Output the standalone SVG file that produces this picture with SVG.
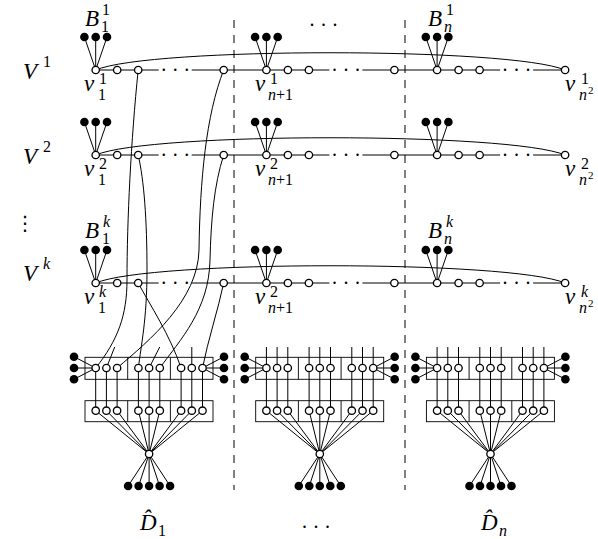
<svg xmlns="http://www.w3.org/2000/svg" width="598" height="539" viewBox="0 0 598 539">
<style>
.l{fill:none;stroke:#000;stroke-width:1}
.bx{fill:none;stroke:#000;stroke-width:0.9}
.d{fill:none;stroke:#000;stroke-width:1;stroke-dasharray:8 7}
.o{fill:#fff;stroke:#000;stroke-width:1.3}
.b{fill:#000}
.m{font-style:italic;font-size:23px}
.mi{font-style:italic;font-size:16px}
.sd{font-size:16px}
.ss{font-size:11px}
.dt{font-size:20px;letter-spacing:6.5px}
</style>
<rect width="598" height="539" fill="#fff"/>
<defs>
<g id="gadLines">
<rect class="bx" x="-10.7" y="357.3" width="128" height="22"/>
<path class="bx" d="M32,357.3V379.3M74.7,357.3V379.3"/>
<rect class="bx" x="-10.7" y="400.7" width="128" height="21"/>
<path class="bx" d="M32,400.7V421.7M74.7,400.7V421.7"/>
<path class="l" d="M0,368V410.7M10.7,368V410.7M21.4,368V410.7M42.7,368V410.7M53.4,368V410.7M64.1,368V410.7M85.4,368V410.7M96.1,368V410.7M106.8,368V410.7"/>
<path class="l" d="M0,410.7L53.4,454M10.7,410.7L53.4,454M21.4,410.7L53.4,454M42.7,410.7L53.4,454M53.4,410.7V454M64.1,410.7L53.4,454M85.4,410.7L53.4,454M96.1,410.7L53.4,454M106.8,410.7L53.4,454"/>
<path class="l" d="M53.4,454L32.4,486M53.4,454L42.9,486M53.4,454V486M53.4,454L63.9,486M53.4,454L74.4,486"/>
<path class="l" d="M-21.7,356.7L0,368M-21.7,368H0M-21.7,379.3L0,368M128.3,356.7L106.8,368M128.3,368H106.8M128.3,379.3L106.8,368"/>
</g>
<g id="gadNodes">
<circle class="o" cx="0" cy="368" r="3.7"/><circle class="o" cx="10.7" cy="368" r="3.7"/><circle class="o" cx="21.4" cy="368" r="3.7"/>
<circle class="o" cx="42.7" cy="368" r="3.7"/><circle class="o" cx="53.4" cy="368" r="3.7"/><circle class="o" cx="64.1" cy="368" r="3.7"/>
<circle class="o" cx="85.4" cy="368" r="3.7"/><circle class="o" cx="96.1" cy="368" r="3.7"/><circle class="o" cx="106.8" cy="368" r="3.7"/>
<circle class="o" cx="0" cy="410.7" r="3.7"/><circle class="o" cx="10.7" cy="410.7" r="3.7"/><circle class="o" cx="21.4" cy="410.7" r="3.7"/>
<circle class="o" cx="42.7" cy="410.7" r="3.7"/><circle class="o" cx="53.4" cy="410.7" r="3.7"/><circle class="o" cx="64.1" cy="410.7" r="3.7"/>
<circle class="o" cx="85.4" cy="410.7" r="3.7"/><circle class="o" cx="96.1" cy="410.7" r="3.7"/><circle class="o" cx="106.8" cy="410.7" r="3.7"/>
<circle class="o" cx="53.4" cy="454" r="3.7"/>
<circle class="b" cx="32.4" cy="486" r="4.3"/><circle class="b" cx="42.9" cy="486" r="4.3"/><circle class="b" cx="53.4" cy="486" r="4.3"/><circle class="b" cx="63.9" cy="486" r="4.3"/><circle class="b" cx="74.4" cy="486" r="4.3"/>
<circle class="b" cx="-21.7" cy="356.7" r="4.3"/><circle class="b" cx="-21.7" cy="368" r="4.3"/><circle class="b" cx="-21.7" cy="379.3" r="4.3"/>
<circle class="b" cx="128.3" cy="356.7" r="4.3"/><circle class="b" cx="128.3" cy="368" r="4.3"/><circle class="b" cx="128.3" cy="379.3" r="4.3"/>
</g>
<g id="rowNodes">
<circle class="b" cx="84.4" cy="-33" r="4.3"/><circle class="b" cx="95.7" cy="-33" r="4.3"/><circle class="b" cx="107" cy="-33" r="4.3"/>
<circle class="b" cx="255.1" cy="-33" r="4.3"/><circle class="b" cx="266.4" cy="-33" r="4.3"/><circle class="b" cx="277.7" cy="-33" r="4.3"/>
<circle class="b" cx="425.8" cy="-33" r="4.3"/><circle class="b" cx="437.1" cy="-33" r="4.3"/><circle class="b" cx="448.4" cy="-33" r="4.3"/>
<circle class="o" cx="95.7" cy="0" r="3.7"/><circle class="o" cx="117.2" cy="0" r="3.7"/><circle class="o" cx="138.2" cy="0" r="3.7"/><circle class="o" cx="223.7" cy="0" r="3.7"/>
<circle class="o" cx="266.4" cy="0" r="3.7"/><circle class="o" cx="287.9" cy="0" r="3.7"/><circle class="o" cx="308.9" cy="0" r="3.7"/><circle class="o" cx="394.4" cy="0" r="3.7"/>
<circle class="o" cx="437.1" cy="0" r="3.7"/><circle class="o" cx="458.6" cy="0" r="3.7"/><circle class="o" cx="479.6" cy="0" r="3.7"/><circle class="o" cx="565.1" cy="0" r="3.7"/>
<g font-family="Liberation Serif, DejaVu Serif, serif">
<text class="dt" x="161.2" y="1">...</text><text class="dt" x="331.9" y="1">...</text><text class="dt" x="502.6" y="1">...</text>
</g>
</g>
<path id="rowLines" class="l" d="M95.7,0H158.7M191.7,0H329.4M362.4,0H500.1M533.1,0H565.1M95.7,0C150,-23 510,-23 565.1,0M84.4,-33L95.7,0M95.7,-33V0M107,-33L95.7,0M255.1,-33L266.4,0M266.4,-33V0M277.7,-33L266.4,0M425.8,-33L437.1,0M437.1,-33V0M448.4,-33L437.1,0"/>
</defs>

<g id="connectors">
<path class="d" d="M234,20V490M405,20V490"/>
<use href="#rowLines" y="70"/>
<use href="#rowLines" y="155"/>
<use href="#rowLines" y="283"/>
<path class="l" d="M138.2,70C131,140 127,220 127,280C127,315 118,340 95.7,368"/>
<path class="l" d="M223.7,70C206,115 200,180 199,250C198,300 150,340 117.1,368"/>
<path class="l" d="M138.2,155C144,180 147,220 147,270C147,320 141,345 138.4,368"/>
<path class="l" d="M223.7,155C214,185 211,220 210,260C209,310 180,340 159.8,368"/>
<path class="l" d="M138.2,283C150,305 170,335 181.1,368"/>
<path class="l" d="M223.7,283C218,310 208,340 202.5,368"/>
<path class="l" d="M106.4,368L114.7,347M149.1,368L159.7,347M191.8,368V347"/>
<path class="l" d="M266.4,368V347M277.1,368V347M287.8,368V347M309.1,368V347M319.8,368V347M330.5,368V347M351.8,368V347M362.5,368V347M373.2,368V347"/>
<path class="l" d="M437.1,368V347M447.8,368V347M458.5,368V347M479.8,368V347M490.5,368V347M501.2,368V347M522.5,368V347M533.2,368V347M543.9,368V347"/>
<use href="#gadLines" x="95.7"/>
<use href="#gadLines" x="266.4"/>
<use href="#gadLines" x="437.1"/>
</g>

<g id="row-V1"><use href="#rowNodes" y="70"/></g>
<g id="row-V2"><use href="#rowNodes" y="155"/></g>
<g id="row-Vk"><use href="#rowNodes" y="283"/></g>
<g id="gadget-D1"><use href="#gadNodes" x="95.7"/></g>
<g id="gadget-D2"><use href="#gadNodes" x="266.4"/></g>
<g id="gadget-Dn"><use href="#gadNodes" x="437.1"/></g>

<g id="labels" font-family="Liberation Serif, DejaVu Serif, serif">
<text class="m" x="23" y="79">V</text><text class="sd" x="43" y="67">1</text>
<text class="m" x="23" y="164">V</text><text class="sd" x="43" y="152">2</text>
<text class="m" x="23" y="281">V</text><text class="mi" x="43" y="269">k</text>
<text class="dt" x="15" y="230" font-family="DejaVu Sans, sans-serif" font-size="26" letter-spacing="0">⋮</text>
<text class="dt" x="309.5" y="26">...</text>

<text class="m" x="85" y="26">B</text><text class="sd" x="102" y="15">1</text><text class="sd" x="101" y="32">1</text>
<text class="m" x="428" y="26">B</text><text class="sd" x="446" y="15">1</text><text class="mi" x="444" y="32">n</text>
<text class="m" x="85" y="238">B</text><text class="mi" x="103" y="227">k</text><text class="sd" x="102" y="244">1</text>
<text class="m" x="428" y="238">B</text><text class="mi" x="446" y="227">k</text><text class="mi" x="444" y="244">n</text>

<text class="m" x="84" y="91">v</text><text class="sd" x="99" y="84">1</text><text class="sd" x="98" y="100">1</text>
<text class="m" x="255" y="91">v</text><text class="sd" x="270" y="84">1</text><text class="mi" x="268" y="100">n<tspan class="sd" font-style="normal">+1</tspan></text>
<text class="m" x="565" y="91">v</text><text class="sd" x="581" y="84">1</text><text class="mi" x="579" y="100">n</text><text class="ss" x="588" y="94">2</text>

<text class="m" x="84" y="176">v</text><text class="sd" x="99" y="169">2</text><text class="sd" x="98" y="185">1</text>
<text class="m" x="255" y="176">v</text><text class="sd" x="270" y="169">2</text><text class="mi" x="268" y="185">n<tspan class="sd" font-style="normal">+1</tspan></text>
<text class="m" x="565" y="176">v</text><text class="sd" x="581" y="169">2</text><text class="mi" x="579" y="185">n</text><text class="ss" x="588" y="179">2</text>

<text class="m" x="84" y="304">v</text><text class="mi" x="99" y="297">k</text><text class="sd" x="98" y="313">1</text>
<text class="m" x="255" y="304">v</text><text class="sd" x="270" y="297">2</text><text class="mi" x="268" y="313">n<tspan class="sd" font-style="normal">+1</tspan></text>
<text class="m" x="565" y="304">v</text><text class="mi" x="581" y="297">k</text><text class="mi" x="579" y="313">n</text><text class="ss" x="588" y="307">2</text>

<text class="m" x="140" y="530">D̂</text><text class="sd" x="158" y="536">1</text>
<text class="dt" x="302" y="528" letter-spacing="8">...</text>
<text class="m" x="481" y="530">D̂</text><text class="mi" x="499" y="536">n</text>
</g>
</svg>
